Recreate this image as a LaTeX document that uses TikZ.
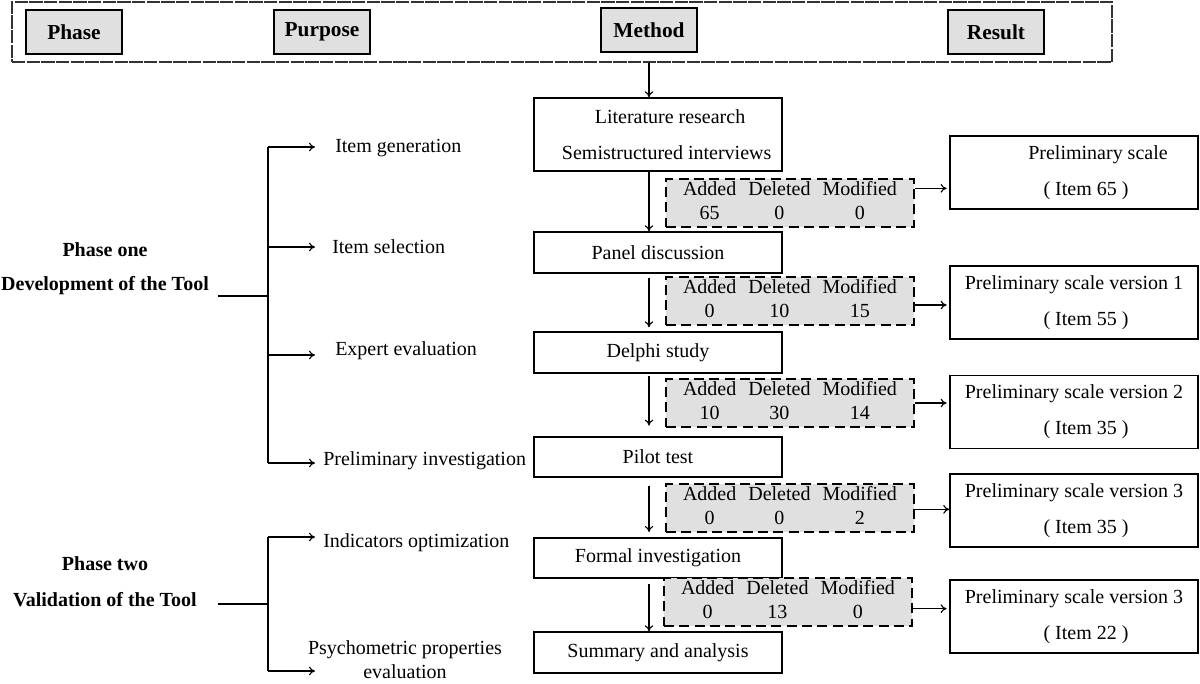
\documentclass[tikz,border=0pt]{standalone}
\usepackage{fontspec}
\setmainfont{Liberation Serif}
\usetikzlibrary{arrows.meta}
\newcommand\ff{\fontsize{15}{18}\selectfont}
\newcommand\hf{\fontsize{16}{19}\selectfont\bfseries}
\newcommand\tbl[3]{\setlength\tabcolsep{4.5pt}\begin{tabular}{@{}ccc@{}}Added & Deleted & Modified\\ #1 & #2 & #3\end{tabular}}
\newcommand\itm[1]{\hspace*{18pt}( Item #1 )}
\begin{document}
\begin{tikzpicture}[x=0.75pt,y=-0.75pt,
  every node/.style={font=\ff, inner sep=0pt},
  hbox/.style={draw=black, line width=1.3pt, fill=black!12, font=\hf, minimum width=72pt, minimum height=33pt},
  mbox/.style={draw=black, line width=1.1pt, fill=white, minimum width=186pt, align=center},
  dbox/.style={draw=black, line width=2pt, dash pattern=on 7.5pt off 4pt, fill=black!12, minimum width=186pt, minimum height=36pt},
  rbox/.style={draw=black, line width=1.1pt, minimum width=186pt, minimum height=54.75pt, align=center},
  arr/.style={-{To[length=4.5pt,width=6.5pt]}, line width=0.85pt},
  ln/.style={line width=1pt},
  lab/.style={anchor=west},
  plab/.style={font=\ff\bfseries},
]
\useasboundingbox (0,0) rectangle (1200,683);
% header
\node[draw=black!80, line width=1.5pt, dash pattern=on 10pt off 1pt, minimum width=825pt, minimum height=45pt] (hdr) at (562,32) {};
\node[hbox] (hphase) at (74,32) {Phase};
\node[hbox] (hpurpose) at (322,32) {Purpose};
\node[hbox] (hmethod) at (649,30) {Method};
\node[hbox] (hresult) at (996,32) {Result};
% method column
\node[mbox, minimum height=54.75pt] (lit) at (658,134.5) {\hspace*{18pt}Literature research\\[9pt]\hspace*{13pt}Semistructured interviews};
\node[mbox, minimum height=30.75pt] (panel) at (658,252.5) {Panel discussion};
\node[mbox, minimum height=30.75pt] (delphi) at (658,352.5) {Delphi study};
\node[mbox, minimum height=30pt] (pilot) at (658,457) {Pilot test};
\node[mbox, minimum height=30pt] (formal) at (658,558) {Formal investigation};
\node[mbox, minimum height=30.75pt] (summary) at (658,652.5) {Summary and analysis};
% dashed boxes
\node[dbox] (d1) at (790,203) {\tbl{65}{0}{0}};
\node[dbox] (d2) at (790,301) {\tbl{0}{10}{15}};
\node[dbox] (d3) at (790,403) {\tbl{10}{30}{14}};
\node[dbox] (d4) at (790,508) {\tbl{0}{0}{2}};
\node[dbox] (d5) at (788,602) {\tbl{0}{13}{0}};
% result boxes
\node[rbox] (r1) at (1074,172.5) {\hspace*{36pt}Preliminary scale\\[9pt]\itm{65}};
\node[rbox] (r2) at (1074,302.5) {Preliminary scale version 1\\[9pt]\itm{55}};
\node[rbox] (r3) at (1074,412) {Preliminary scale version 2\\[9pt]\itm{35}};
\node[rbox] (r4) at (1074,510.5) {Preliminary scale version 3\\[9pt]\itm{35}};
\node[rbox] (r5) at (1074,616.5) {Preliminary scale version 3\\[9pt]\itm{22}};
% vertical arrows
\draw[arr] ([xshift=-6.75pt]lit.north |- hdr.south) -- ([xshift=-6.75pt]lit.north);
\draw[arr] ([xshift=-6.75pt]lit.south) -- ([xshift=-6.75pt]panel.north);
\draw[arr, shorten <=3pt, shorten >=3pt] ([xshift=-6.75pt]panel.south) -- ([xshift=-6.75pt]delphi.north);
\draw[arr, shorten <=2pt, shorten >=8pt] ([xshift=-6.75pt]delphi.south) -- ([xshift=-6.75pt]pilot.north);
\draw[arr, shorten <=6pt, shorten >=4pt] ([xshift=-6.75pt]pilot.south) -- ([xshift=-6.75pt]formal.north);
\draw[arr, shorten <=4pt] ([xshift=-6.75pt]formal.south) -- ([xshift=-6.75pt]summary.north);
% horizontal arrows to results
\draw[arr, shorten >=2pt] ([yshift=11pt]d1.east) -- ([yshift=11pt]d1.east -| r1.west);
\draw[arr, shorten >=2pt] ([yshift=-3pt]d2.east) -- ([yshift=-3pt]d2.east -| r2.west);
\draw[arr, shorten >=2pt] (d3.east) -- (d3.east -| r3.west);
\draw[arr] ([yshift=-1pt]d4.east) -- ([yshift=-1pt]d4.east -| r4.west);
\draw[arr, shorten >=2pt] ([yshift=-5pt]d5.east) -- ([yshift=-5pt]d5.east -| r5.west);
% phase one
\node[plab] (p1a) at (105,250) {Phase one};
\node[plab] (p1b) at (105,286) {Development of the Tool};
\coordinate (s1) at (218,296);
\coordinate (j1) at (268,296);
\coordinate (ae) at (315,0);
\node[lab] (pg1) at (335,148) {Item generation};
\node[lab] (pg2) at (332,247) {Item selection};
\node[lab] (pg3) at (335,351) {Expert evaluation};
\node[lab] (pg4) at (323,461) {Preliminary investigation};
\draw[ln] (s1) -- (j1);
\draw[ln] (j1 |- 0,147) -- (j1 |- 0,463);
\draw[arr] (j1 |- 0,147) -- (ae |- 0,147);
\draw[arr] (j1 |- pg2.west) -- (ae |- pg2.west);
\draw[arr] (j1 |- 0,355) -- (ae |- 0,355);
\draw[arr] (j1 |- 0,463) -- (ae |- 0,463);
% phase two
\node[plab] (p2a) at (105,564) {Phase two};
\node[plab] (p2b) at (105,600) {Validation of the Tool};
\coordinate (s2) at (218,604);
\coordinate (j2) at (268,604);
\node[lab] (pg5) at (323,543) {Indicators optimization};
\node[align=center] (pg6) at (405,660) {Psychometric properties\\evaluation};
\draw[ln] (s2) -- (j2);
\draw[ln] (j2 |- 0,537) -- (j2 |- 0,671);
\draw[arr] (j2 |- 0,537) -- (ae |- 0,537);
\draw[arr] (j2 |- 0,671) -- (ae |- 0,671);
\end{tikzpicture}
\end{document}
